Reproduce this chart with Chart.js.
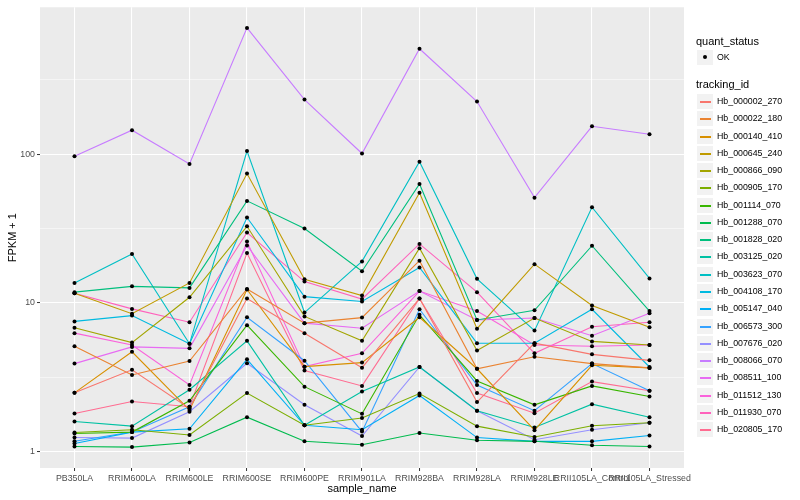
<!DOCTYPE html>
<html>
<head>
<meta charset="utf-8">
<script src="https://cdn.jsdelivr.net/npm/chart.js@4.4.1/dist/chart.umd.min.js"></script>
<style>
  html, body { margin: 0; padding: 0; background: #fff; }
  #wrap { position: relative; width: 800px; height: 500px; font-family: "Liberation Sans", Arial, sans-serif; }
  #chart { position: absolute; left: 0; top: 0; }
  #legend { position: absolute; left: 696px; top: 0; width: 104px; height: 500px; }
  .ltitle { position: absolute; left: 0; font-size: 11px; line-height: 12px; color: #000; white-space: nowrap; }
  .key { position: absolute; left: 1px; width: 16px; height: 15px; background: #F2F2F2; }
  .key i { position: absolute; left: 3px; width: 11px; top: 7px; height: 1.5px; }
  .key b { position: absolute; left: 6px; top: 5px; width: 4px; height: 4px; border-radius: 2px; background: #000; }
  .ltext { position: absolute; left: 21px; font-size: 8.8px; line-height: 10px; color: #000; white-space: nowrap; }
</style>
</head>
<body>
<div id="wrap">
  <canvas id="chart" width="800" height="500"></canvas>
  <div id="legend"></div>
</div>
<script>
// samples on the x axis
const sampleNames = ["PB350LA", "RRIM600LA", "RRIM600LE", "RRIM600SE", "RRIM600PE", "RRIM901LA",
  "RRIM928BA", "RRIM928LA", "RRIM928LE", "RRII105LA_Control", "RRII105LA_Stressed"];

const trackingIds = ["Hb_000002_270", "Hb_000022_180", "Hb_000140_410", "Hb_000645_240", "Hb_000866_090",
  "Hb_000905_170", "Hb_001114_070", "Hb_001288_070", "Hb_001828_020", "Hb_003125_020",
  "Hb_003623_070", "Hb_004108_170", "Hb_005147_040", "Hb_006573_300", "Hb_007676_020",
  "Hb_008066_070", "Hb_008511_100", "Hb_011512_130", "Hb_011930_070", "Hb_020805_170"];

// FPKM + 1, one row per tracking id, one value per sample
const fpkmPlusOne = [
  [2.48, 3.54, 1.95, 10.7, 6.25, 3.66, 10.7, 2.15, 5.35, 4.5, 4.1],
  [5.1, 3.27, 4.06, 12.4, 7.3, 7.95, 19.2, 3.6, 4.34, 3.9, 3.65],
  [2.48, 4.68, 1.9, 12.3, 3.72, 3.96, 8.0, 3.6, 1.39, 3.8, 3.65],
  [11.6, 8.45, 13.6, 74, 14.4, 11.2, 55, 6.7, 18.2, 9.6, 6.85],
  [6.8, 5.4, 10.9, 32.7, 8.1, 5.55, 23.3, 4.77, 7.9, 5.5, 5.2],
  [1.34, 1.4, 1.29, 2.47, 1.5, 1.68, 2.45, 1.48, 1.25, 1.49, 1.56],
  [1.32, 1.35, 2.19, 7.07, 2.73, 1.79, 8.3, 2.98, 2.06, 2.76, 2.34],
  [1.08, 1.07, 1.15, 1.7, 1.17, 1.11, 1.33, 1.19, 1.17, 1.1, 1.08],
  [11.8, 12.9, 12.6, 48.5, 31.6, 16.3, 63, 7.67, 8.9, 24.2, 8.8],
  [1.59, 1.48, 2.6, 5.55, 1.5, 2.53, 3.7, 1.88, 1.45, 2.08, 1.7],
  [13.6, 21.3, 5.3, 105, 8.6, 19.0, 89, 14.5, 6.5, 44, 14.6],
  [7.5, 8.2, 5.3, 37.5, 11.0, 10.2, 17.3, 5.35, 5.35, 9.05, 3.7],
  [1.13, 1.35, 1.42, 4.17, 1.5, 1.4, 2.38, 1.24, 1.17, 1.17, 1.28],
  [1.17, 1.35, 2.0, 8.0, 4.08, 1.36, 9.05, 2.8, 1.88, 3.9, 2.56],
  [1.24, 1.23, 1.85, 3.92, 2.06, 1.27, 3.7, 1.88, 1.2, 1.4, 1.56],
  [97, 145, 86, 707, 233, 101, 512, 226, 51, 154, 136],
  [3.9, 5.05, 4.94, 24.3, 7.3, 6.75, 12.0, 7.67, 7.9, 6.0, 8.5],
  [6.25, 5.2, 2.8, 25.8, 3.72, 4.57, 12.0, 8.8, 5.2, 5.1, 5.2],
  [11.6, 9.1, 7.4, 29.7, 13.9, 10.6, 24.9, 11.8, 4.57, 6.9, 7.4],
  [1.8, 2.17, 2.0, 21.6, 3.5, 2.76, 10.7, 2.47, 1.81, 2.95, 2.56]
];

const yMajorTicks = [1, 10, 100];
const yMinorTicks = [3.1623, 31.623, 316.23];

// ggplot hue palette, 20 colours
const palette = ["#F8766D", "#EA8331", "#D89000", "#C09B00", "#A3A500", "#7CAE00", "#39B600", "#00BB4E",
  "#00BF7D", "#00C1A3", "#00BFC4", "#00BAE0", "#00B0F6", "#35A2FF", "#9590FF", "#C77CFF",
  "#E76BF3", "#FA62DB", "#FF62BC", "#FF6C91"];

const lineSets = trackingIds.map((id, k) => ({
  label: id,
  data: fpkmPlusOne[k].map((v, i) => ({x: i, y: v})),
  borderColor: palette[k],
  borderWidth: 1.1,
  pointRadius: 0,
  tension: 0,
  order: 1
}));
const pointSets = trackingIds.map((id, k) => ({
  label: id + " pts",
  data: fpkmPlusOne[k].map((v, i) => ({x: i, y: v})),
  showLine: false,
  pointRadius: 2,
  pointBackgroundColor: "#000",
  pointBorderWidth: 0,
  order: 0
}));

const panelBg = {
  id: "panelBg",
  beforeDraw(chart) {
    const {ctx, chartArea: a} = chart;
    ctx.save();
    ctx.fillStyle = "#EBEBEB";
    ctx.fillRect(a.left, a.top, a.right - a.left, a.bottom - a.top);
    ctx.restore();
  }
};

const isMajor = v => yMajorTicks.includes(v);

new Chart(document.getElementById("chart"), {
  type: "line",
  data: { datasets: lineSets.concat(pointSets) },
  plugins: [panelBg],
  options: {
    responsive: false,
    animation: false,
    devicePixelRatio: 1,
    layout: { padding: { top: 5, right: 116, left: 0, bottom: 0 } },
    plugins: { legend: { display: false }, tooltip: { enabled: false } },
    scales: {
      x: {
        type: "linear",
        min: -0.6,
        max: 10.6,
        afterBuildTicks: s => { s.ticks = sampleNames.map((n, i) => ({value: i})); },
        afterFit: s => { s.height = 32; },
        ticks: {
          autoSkip: false, maxRotation: 0, minRotation: 0, padding: 2,
          color: "#4D4D4D", font: { family: "Liberation Sans", size: 8.8 },
          callback: v => sampleNames[v]
        },
        grid: { color: "#FFFFFF", lineWidth: 1.07, tickColor: "#333333", tickLength: 3, tickWidth: 1 },
        border: { display: false },
        title: { display: true, text: "sample_name", color: "#000", font: { family: "Liberation Sans", size: 11 }, padding: { top: 0, bottom: 4 } }
      },
      y: {
        type: "logarithmic",
        min: 0.774,
        max: 973,
        afterBuildTicks: s => {
          s.ticks = yMajorTicks.concat(yMinorTicks).sort((a, b) => a - b).map(v => ({value: v}));
        },
        afterFit: s => { s.width = 40; },
        ticks: {
          padding: 2, color: "#4D4D4D", font: { family: "Liberation Sans", size: 8.8 },
          callback: v => isMajor(v) ? String(v) : ""
        },
        grid: {
          color: "#FFFFFF",
          lineWidth: c => isMajor(c.tick.value) ? 1.07 : 0.53,
          tickColor: c => isMajor(c.tick.value) ? "#333333" : "rgba(0,0,0,0)",
          tickLength: 3,
          tickWidth: 1
        },
        border: { display: false },
        title: { display: true, text: "FPKM + 1", color: "#000", font: { family: "Liberation Sans", size: 11 }, padding: { top: 6, bottom: 0 } }
      }
    }
  }
});

// legend on the right
const lg = document.getElementById("legend");
let html = '<div class="ltitle" style="top:35px">quant_status</div>';
html += '<div class="key" style="top:50px"><b></b></div><div class="ltext" style="top:52px">OK</div>';
html += '<div class="ltitle" style="top:78px">tracking_id</div>';
trackingIds.forEach((id, k) => {
  const cy = Math.round(101 + k * 17.27);
  html += '<div class="key" style="top:' + (cy - 7) + 'px"><i style="background:' + palette[k] + '"></i></div>';
  html += '<div class="ltext" style="top:' + (cy - 5) + 'px">' + id + '</div>';
});
lg.innerHTML = html;
</script>
</body>
</html>
